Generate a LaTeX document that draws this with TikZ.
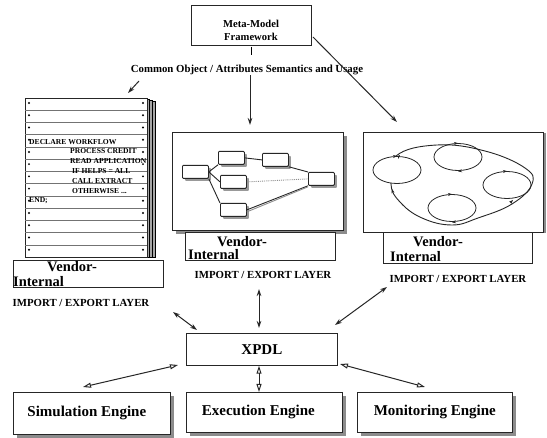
\documentclass[tikz,border=0pt]{standalone}
\usepackage{fontspec}
\setmainfont{Liberation Serif}
\usetikzlibrary{arrows.meta,shapes.geometric,shadows,calc}
\begin{document}
\begin{tikzpicture}[x=1pt,y=-1pt,
  frame/.style={draw=black!85,line width=0.7pt,fill=white,inner sep=0pt,anchor=north west},
  shd/.style={drop shadow={shadow xshift=3.5pt,shadow yshift=-3.5pt,fill=black!45,opacity=1}},
  arr/.style={-{Stealth[length=7pt,width=4.5pt]},line width=1pt,black!85},
  darr/.style={{Stealth[length=7pt,width=4.5pt]}-{Stealth[length=7pt,width=4.5pt]},line width=1pt,black!85},
  oarr/.style={{Triangle[open,length=8pt,width=5pt]}-{Triangle[open,length=8pt,width=5pt]},line width=1pt,black!85},
  small/.style={font=\bfseries\fontsize{10.8}{12}\selectfont,inner sep=0pt},
  big/.style={font=\bfseries\fontsize{15}{17}\selectfont,inner sep=0pt},
  vend/.style={font=\bfseries\fontsize{14.5}{16}\selectfont,inner sep=0pt,anchor=base west},
  code/.style={font=\bfseries\fontsize{7.6}{8}\selectfont,inner sep=0pt,anchor=west},
  mini/.style={draw=black!85,line width=0.8pt,fill=white,rounded corners=1pt,minimum width=26pt,minimum height=13pt,inner sep=0pt,anchor=north west,drop shadow={shadow xshift=2.5pt,shadow yshift=-2.5pt,fill=black!40,opacity=1}},
  ring/.style={draw=black!85,line width=0.8pt,ellipse,minimum width=48pt,minimum height=27pt,inner sep=0pt},
  tick/.style={-{Stealth[length=4pt,width=3pt]},line width=0.7pt,black!85},
]
\useasboundingbox (0,0) rectangle (547,438);
\fill[white] (0,0) rectangle (547,438);

% ---------- Meta-model ----------
\node[frame,minimum width=120pt,minimum height=40pt] (meta) at (191,5) {};
\node[font=\bfseries\fontsize{10.6}{13}\selectfont,align=center,inner sep=0pt] (metat) at (251,30) {Meta-Model\\Framework};
\node[small] (common) at (247,70) {Common Object / Attributes Semantics and Usage};
\coordinate (mtick) at (251,47);
\coordinate (mtickb) at (251,55);
\draw[line width=0.8pt] (mtick) -- (mtickb);

% ---------- left stack ----------
\foreach \i in {3,2,1}
  \draw[line width=0.6pt,fill=black!35] ({25+2.7*\i},{98+\i}) rectangle ({147+2.7*\i},257);
\node[frame,minimum width=122pt,minimum height=159pt] (page) at (25,98) {};
\foreach \k in {1,...,12}
  \draw[black!55,line width=0.5pt] (25,{98+12.23*\k}) -- (147,{98+12.23*\k});
\foreach \k in {0,...,12}{
  \fill (29,{98+12.23*\k+5}) circle (1.1pt);
  \fill (143,{98+12.23*\k+5}) circle (1.1pt);
}
\begin{scope}
\clip (25,98) rectangle (147,257);
\node[code] (l1) at (29,142) {DECLARE WORKFLOW};
\node[code] (l2) at (70,151) {PROCESS CREDIT};
\node[code] (l3) at (70,161) {READ APPLICATION};
\node[code] (l4) at (72,171) {IF HELPS = ALL};
\node[code] (l5) at (72,181) {CALL EXTRACT};
\node[code] (l6) at (72,191) {OTHERWISE ...};
\node[code] (l7) at (29,201) {END;};
\end{scope}
\node[frame,minimum width=150pt,minimum height=27pt] (vl) at (13,260) {};
\node[vend] (vlv) at (47,272) {Vendor-};
\node[vend] (vli) at (13,286.5) {Internal};
\node[small] (iel) at (81,303) {IMPORT / EXPORT LAYER};

% ---------- middle panel ----------
\node[frame,shd,minimum width=171pt,minimum height=98pt] (mid) at (172,132) {};
\node[mini] (A) at (182,165) {};
\node[mini] (B) at (218,151) {};
\node[mini] (C) at (220,175) {};
\node[mini] (D) at (262,153) {};
\node[mini] (E) at (308,172) {};
\node[mini] (F) at (220,203) {};
\begin{scope}[line width=0.9pt,black!85]
\draw (A.east) -- (B.south west);
\draw (A.east) -- (C.west);
\draw (A.south east) -- (F.north west);
\draw (B.east) -- (D.west);
\draw (D.south east) -- (E.north west);
\draw[black!45,densely dotted] (C.east) -- (E.west);
\draw (F.east) -- (E.south west);
\draw[black!45] ([yshift=-2pt]F.east) -- ([yshift=-1pt]E.south west);
\end{scope}
\node[frame,minimum width=150pt,minimum height=28pt] (vm) at (185,232) {};
\node[vend] (vmv) at (217,246.5) {Vendor-};
\node[vend] (vmi) at (188,259.5) {Internal};
\node[small] (iem) at (263,275) {IMPORT / EXPORT LAYER};

% ---------- right panel ----------
\node[frame,drop shadow={shadow xshift=3pt,shadow yshift=-1pt,fill=black!45,opacity=1},minimum width=180pt,minimum height=100pt] (rgt) at (363,132) {};
\draw[line width=0.9pt,black!85] plot[smooth cycle,tension=0.7] coordinates {(396,156) (437,145) (485,151) (525,168) (532,184) (512,204) (478,218) (452,225) (422,218) (400,202) (391,184)};
\node[ring,fill=white,draw=none] at (397,170) {};
\node[ring] (c1) at (397,170) {};
\node[ring] (c2) at (458,157) {};
\node[ring] (c3) at (507,185) {};
\node[ring] (c4) at (452,208) {};
\draw[tick] (c1.north) ++(-3,0.3) -- ++(3,-0.3);
\draw[tick] (c2.north) ++(-3,0.3) -- ++(3,-0.3);
\draw[tick] (c3.north) ++(-3,0.3) -- ++(3,-0.3);
\draw[tick] (c4.north) ++(-3,0.3) -- ++(3,-0.3);
\draw[tick] (c2.south) ++(3,0) -- ++(-3,0.5);
\draw[tick] (c4.south) ++(3,0) -- ++(-3,0.5);
\draw[tick] (393,193) -- (392,189);
\draw[tick] (510,203) -- (513,200);
\draw[tick] (398,157) -- (400,155);
\node[frame,minimum width=149pt,minimum height=31pt] (vr) at (383,232) {};
\node[vend] (vrv) at (413,246.5) {Vendor-};
\node[vend] (vri) at (390,262) {Internal};
\node[small] (ier) at (458,279) {IMPORT / EXPORT LAYER};

% ---------- arrows from meta-model ----------
\coordinate (ltail) at (139,81);
\coordinate (lhead) at (128,93);
\draw[arr] (ltail) -- (lhead);
\coordinate (mhead) at (250,125);
\draw[arr] ([xshift=3pt]common.south) -- (mhead);
\coordinate (rtail) at (313,37);
\coordinate (rhead) at (397,122);
\draw[arr] (rtail) -- (rhead);

% ---------- XPDL ----------
\node[frame,minimum width=151pt,minimum height=32pt] (xpdl) at (186,333) {};
\node[big] (xpdlt) at (xpdl.center) {XPDL};
\coordinate (la) at (173,312);
\coordinate (lb) at (197,330);
\draw[darr] (la) -- (lb);
\coordinate (ma) at (259,289);
\coordinate (mb) at (259,328);
\draw[darr] (ma) -- (mb);
\coordinate (ra) at (387,287);
\coordinate (rb) at (335,325);
\draw[darr] (ra) -- (rb);

% ---------- engines ----------
\node[frame,shd,minimum width=157pt,minimum height=42pt] (sim) at (13,392) {};
\node[big] (simt) at ([xshift=-5pt]sim.center) {Simulation Engine};
\node[frame,shd,minimum width=156pt,minimum height=40pt] (exe) at (186,392) {};
\node[big] (exet) at ([xshift=-6pt]exe.center) {Execution Engine};
\node[frame,shd,minimum width=155pt,minimum height=40pt] (mon) at (357,392) {};
\node[big] (mont) at (mon.center) {Monitoring Engine};

\coordinate (sa) at (178,365);
\coordinate (sb) at (83,387);
\draw[oarr] (sa) -- (sb);
\draw[oarr] (xpdl.south -| ma) -- (exe.north -| ma);
\coordinate (qa) at (340,364);
\coordinate (qb) at (425,387);
\draw[oarr] (qa) -- (qb);
\end{tikzpicture}
\end{document}
